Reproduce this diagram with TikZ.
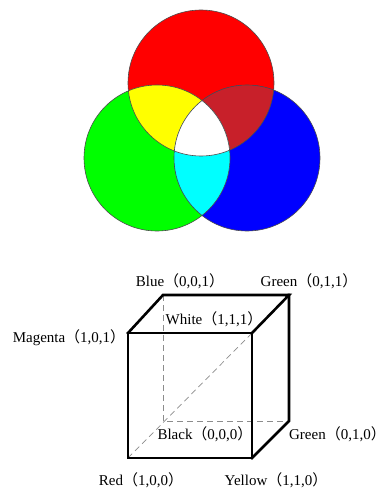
\documentclass[tikz,border=0pt]{standalone}
\usepackage{fontspec}
\setmainfont{Liberation Serif}
\newfontfamily\cjk{Noto Sans CJK SC}
\usetikzlibrary{positioning, calc}
\definecolor{rgbred}{RGB}{255,0,0}
\definecolor{rgbgreen}{RGB}{0,255,0}
\definecolor{rgbblue}{RGB}{0,0,255}
\definecolor{rgbyellow}{RGB}{255,255,0}
\definecolor{rgbcyan}{RGB}{0,255,255}
\definecolor{mixred}{RGB}{200,32,42}
\newcommand{\fwl}{{\cjk （}}
\newcommand{\fwr}{{\cjk ）}}
\tikzset{
    disc/.style={draw=black!70, line width=0.6pt},
    edge/.style={line width=2.6pt, line join=miter, line cap=rect},
    hidden/.style={draw=black!45, line width=0.7pt, dash pattern=on 6pt off 4pt},
    corner/.style={font=\fontsize{15}{18}\selectfont, inner sep=0pt}
}
\begin{document}
\begin{tikzpicture}[x=1pt, y=-1pt]
    \useasboundingbox (0,0) rectangle (387,489);
    % colour circles
    \coordinate (cr) at (201,83);
    \coordinate (cg) at (157,158);
    \coordinate (cb) at (247,158);
    \def\rad{73pt}
    \fill[rgbred] (cr) circle[radius=\rad];
    \fill[rgbgreen] (cg) circle[radius=\rad];
    \fill[rgbblue] (cb) circle[radius=\rad];
    \begin{scope}
        \clip (cr) circle[radius=\rad];
        \fill[rgbyellow] (cg) circle[radius=\rad];
        \fill[mixred] (cb) circle[radius=\rad];
    \end{scope}
    \begin{scope}
        \clip (cg) circle[radius=\rad];
        \fill[rgbcyan] (cb) circle[radius=\rad];
        \clip (cb) circle[radius=\rad];
        \fill[white] (cr) circle[radius=\rad];
    \end{scope}
    \draw[disc] (cr) circle[radius=\rad];
    \draw[disc] (cg) circle[radius=\rad];
    \draw[disc] (cb) circle[radius=\rad];

    % RGB cube
    \coordinate (ftl) at (128,333);
    \coordinate (ftr) at (252,333);
    \coordinate (fbr) at (252,458);
    \coordinate (fbl) at (128,458);
    \coordinate (btl) at (163,295);
    \coordinate (btr) at (289,295);
    \coordinate (bbr) at (289,421);
    \coordinate (bbl) at (163,421);

    \draw[hidden] (btl) -- (bbl) -- (bbr);
    \draw[hidden] (fbl) -- (ftr);
    \draw[edge] (ftl) rectangle (fbr);
    \draw[edge] (ftl) -- (btl) -- (btr) -- (ftr);
    \draw[edge] (btr) -- (bbr) -- (fbr);

    \node[corner] (blue) at (180,281) {Blue\fwl 0,0,1\fwr};
    \node[corner] (green011) at (309,281) {Green\fwl 0,1,1\fwr};
    \node[corner] (white) at (214,319) {White\fwl 1,1,1\fwr};
    \node[corner] (magenta) at (69,338) {Magenta\fwl 1,0,1\fwr};
    \node[corner] (black) at (205,434) {Black\fwl 0,0,0\fwr};
    \node[corner, anchor=east] (green010) at (386,434) {Green\fwl 0,1,0\fwr};
    \node[corner] (red) at (141,480) {Red\fwl 1,0,0\fwr};
    \node[corner] (yellow) at (276,480) {Yellow\fwl 1,1,0\fwr};
\end{tikzpicture}
\end{document}
